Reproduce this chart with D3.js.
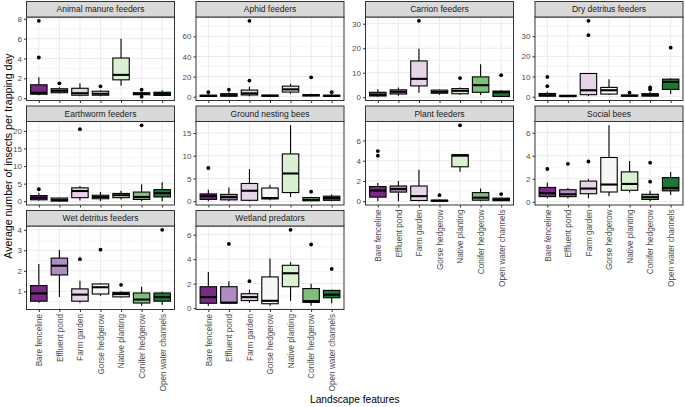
<!DOCTYPE html>
<html><head><meta charset="utf-8">
<script src="https://cdn.jsdelivr.net/npm/d3@7"></script>
<style>body{margin:0;background:#fff}svg{display:block}</style>
</head><body><svg id="c" width="685" height="407"></svg>
<script>
// ---------------- DATA ----------------
const categories = ["Bare fenceline","Effluent pond","Farm garden","Gorse hedgerow","Native planting","Conifer hedgerow","Open water channels"];
const groups = ["Animal manure feeders","Aphid feeders","Carrion feeders","Dry detritus feeders",
  "Earthworm feeders","Ground nesting bees","Plant feeders","Social bees",
  "Wet detritus feeders","Wetland predators"];
const palette = ["#762a83","#af8dc3","#e7d4e8","#f7f7f7","#d9f0d3","#7fbf7b","#1b7837"];

// box statistics per category: [lower whisker, Q1, median, Q3, upper whisker]
const animalManure = [[0.3,0.4,0.55,1.35,2.1],[0.5,0.55,0.75,0.95,1.1],[0.2,0.3,0.5,1.0,1.5],[0.2,0.3,0.45,0.7,0.8],[1.25,1.85,2.35,4.05,6.0],[0.3,0.35,0.45,0.55,0.6],[0.2,0.28,0.45,0.6,0.8]];
const animalManureOut = [[4.1,7.8],[1.5],[],[1.2],[],[0.85,0.15],[]];
const aphid = [[0,0.3,0.8,1.5,2.5],[0,0.5,1.5,3,4.5],[0.5,1.7,3.3,6.6,10],[0,0.5,1,1.5,2],[3,4.6,7.3,10.5,13],[0.2,0.8,1.5,2,3],[0,0.3,0.8,1.5,2.5]];
const aphidOut = [[4.5],[7],[16,75.5],[],[],[19.3],[4.5]];
const carrion = [[0.2,0.5,0.9,2.0,3.2],[0.6,1.3,2.2,3.0,4.0],[1.8,4.6,7.5,14.8,19.8],[1.0,1.6,2.2,2.9,3.1],[1.0,1.4,2.6,3.5,4],[0.9,2.0,4.9,8.3,13.5],[0.2,0.3,2.0,2.5,2.8]];
const carrionOut = [[],[],[31.2],[],[7.8],[],[9]];
const dryDetritus = [[0,0.3,0.7,1.6,2.5],[0,0.1,0.3,0.7,1.0],[0.3,1.0,3.2,11.5,11.8],[0.8,1.3,3.2,4.6,8.7],[0,0.3,0.5,0.8,1.2],[0.2,0.3,0.8,1.5,2.5],[1.3,3.6,7.3,8.7,9.0]];
const dryDetritusOut = [[5.2,9.8],[],[30.5,37.6],[],[2.0],[3.6,4.6],[24.3]];
const earthworm = [[0.1,0.4,1.0,1.6,2.3],[0,0.05,0.3,0.9,1.0],[0.2,1.0,2.9,3.8,4.3],[0,0.7,1.2,1.7,2.6],[0.5,1.0,1.7,2.2,3.0],[0,0.5,1.2,2.6,4.8],[0,1.2,2.3,3.3,5.4]];
const earthwormOut = [[3.4],[],[20.5],[],[],[21.6],[]];
const groundBees = [[0,0.4,1.1,1.6,2.5],[0,0.3,0.9,1.5,3.0],[0,0.2,2.3,3.9,7.1],[0.2,0.5,0.7,2.9,3.6],[0.9,1.9,6.1,10.4,16.7],[0,0.1,0.3,0.8,1.0],[0,0.2,0.7,1.1,1.5]];
const groundBeesOut = [[7.3],[],[],[],[],[2.1],[]];
const plantFeeders = [[0,0.4,1.05,1.45,1.8],[0,0.9,1.2,1.5,2.0],[0,0.07,0.5,1.5,3.1],[0,0,0.05,0.1,0.15],[2.9,3.4,4.5,4.6,4.65],[0,0.1,0.35,0.85,1.25],[0,0.05,0.15,0.3,0.35]];
const plantFeedersOut = [[4.5,4.95],[],[],[0.6],[7.5],[],[0.7]];
const socialBees = [[0.3,0.45,0.75,1.25,1.65],[0.3,0.45,0.65,1.05,1.2],[0.3,0.7,1.15,1.8,2.0],[0.5,0.85,1.5,3.85,6.65],[0.8,1.0,1.55,2.6,3.55],[0.05,0.2,0.4,0.65,0.95],[0.6,0.95,1.2,2.1,2.6]];
const socialBeesOut = [[2.85],[3.3],[3.5],[],[],[1.75,3.4],[]];
const wetDetritus = [[0.45,0.52,0.9,1.28,2.33],[0.72,1.8,2.25,2.62,3.02],[0.45,0.52,0.84,1.12,1.52],[0.78,0.87,1.2,1.36,1.4],[0.7,0.73,0.87,0.95,1.0],[0.3,0.43,0.6,0.92,1.22],[0.35,0.52,0.72,0.92,0.98]];
const wetDetritusOut = [[],[],[2.57],[3.03],[1.32],[],[4.0]];
const wetlandPred = [[0.2,0.4,0.9,1.75,2.95],[0.4,0.42,0.45,1.75,2.2],[0.45,0.62,0.9,1.18,1.5],[0.2,0.36,0.6,2.55,4.05],[0.6,1.75,2.85,3.5,3.75],[0.2,0.47,0.58,1.6,2.0],[0.4,0.85,1.1,1.45,1.5]];
const wetlandPredOut = [[],[5.25],[2.2],[],[6.4],[5.2],[3.2]];

// y-axis tick labels per panel
const ticksAnimal = [0,2,4,6,8];
const ticksAphid = [0,20,40,60];
const ticksCarrion = [0,10,20,30];
const ticksDry = [0,10,20,30];
const ticksEarth = [0,5,10,15,20];
const ticksGround = [0,5,10,15];
const ticksPlant = [0,2,4,6];
const ticksSocial = [0,2,4,6];
const ticksWet = [1,2,3,4];
const ticksWetland = [0,2,4,6];

const statsList = [animalManure,aphid,carrion,dryDetritus,earthworm,groundBees,plantFeeders,socialBees,wetDetritus,wetlandPred];
const outList = [animalManureOut,aphidOut,carrionOut,dryDetritusOut,earthwormOut,groundBeesOut,plantFeedersOut,socialBeesOut,wetDetritusOut,wetlandPredOut];
const tickList = [ticksAnimal,ticksAphid,ticksCarrion,ticksDry,ticksEarth,ticksGround,ticksPlant,ticksSocial,ticksWet,ticksWetland];

// ---------------- LAYOUT ----------------
const FONT = "'Liberation Sans', Arial, Helvetica, sans-serif";
const colX = [26.5, 196, 365.5, 535];
const panelW = 148;
const stripH = 15.5;
const plotTop = [17, 121.5, 226];
const plotH = 83.5;
const tickLen = 2.5;

const svg = d3.select("#c");

groups.forEach((title, i) => {
  const row = Math.floor(i / 4), col = i % 4;
  const x0 = colX[col], y0 = plotTop[row];
  const stats = statsList[i], outs = outList[i], ticks = tickList[i];
  const allVals = stats.flat().concat(outs.flat());
  const lo = d3.min(allVals), hi = d3.max(allVals), r = hi - lo;
  const y = d3.scaleLinear().domain([lo - 0.05 * r, hi + 0.05 * r]).range([y0 + plotH, y0]);
  const x = d3.scaleLinear().domain([0.4, 7.6]).range([x0, x0 + panelW]);
  const g = svg.append("g");

  g.append("rect").attr("x", x0).attr("y", y0).attr("width", panelW).attr("height", plotH).attr("fill", "#fff");
  const step = ticks[1] - ticks[0];
  const minor = [];
  for (let v = ticks[0] - step / 2; v <= y.domain()[1]; v += step) {
    if (v >= y.domain()[0] && !ticks.some(t => Math.abs(t - v) < 1e-9)) minor.push(v);
  }
  g.selectAll(".mn").data(minor).join("line")
    .attr("x1", x0).attr("x2", x0 + panelW).attr("y1", d => y(d)).attr("y2", d => y(d))
    .attr("stroke", "#ebebeb").attr("stroke-width", 0.5);
  g.selectAll(".mj").data(ticks).join("line")
    .attr("x1", x0).attr("x2", x0 + panelW).attr("y1", d => y(d)).attr("y2", d => y(d))
    .attr("stroke", "#ebebeb").attr("stroke-width", 1);
  g.selectAll(".mx").data(categories).join("line")
    .attr("x1", (d, k) => x(k + 1)).attr("x2", (d, k) => x(k + 1)).attr("y1", y0).attr("y2", y0 + plotH)
    .attr("stroke", "#ebebeb").attr("stroke-width", 1);

  const bw = 0.8;
  stats.forEach((s, k) => {
    const cx = x(k + 1);
    const bx = g.append("g");
    bx.append("line").attr("x1", cx).attr("x2", cx).attr("y1", y(s[3])).attr("y2", y(s[4]))
      .attr("stroke", "#000").attr("stroke-width", 1.1);
    bx.append("line").attr("x1", cx).attr("x2", cx).attr("y1", y(s[1])).attr("y2", y(s[0]))
      .attr("stroke", "#000").attr("stroke-width", 1.1);
    bx.append("rect").attr("x", x(k + 1 - bw / 2)).attr("width", x(k + 1 + bw / 2) - x(k + 1 - bw / 2))
      .attr("y", y(s[3])).attr("height", Math.max(0.01, y(s[1]) - y(s[3])))
      .attr("fill", palette[k]).attr("stroke", "#000").attr("stroke-width", 1.1);
    bx.append("line").attr("x1", x(k + 1 - bw / 2)).attr("x2", x(k + 1 + bw / 2))
      .attr("y1", y(s[2])).attr("y2", y(s[2])).attr("stroke", "#000").attr("stroke-width", 2.1);
    bx.selectAll("circle").data(outs[k]).join("circle")
      .attr("cx", cx).attr("cy", d => y(d)).attr("r", 1.9).attr("fill", "#000");
  });

  g.append("rect").attr("x", x0).attr("y", y0).attr("width", panelW).attr("height", plotH)
    .attr("fill", "none").attr("stroke", "#333").attr("stroke-width", 1);

  g.append("rect").attr("x", x0).attr("y", y0 - stripH).attr("width", panelW).attr("height", stripH)
    .attr("fill", "#d9d9d9").attr("stroke", "#333").attr("stroke-width", 1);
  g.append("text").attr("x", x0 + panelW / 2).attr("y", y0 - stripH / 2).attr("dy", "0.35em")
    .attr("text-anchor", "middle").attr("font-family", FONT).attr("font-size", 8.5).attr("fill", "#1a1a1a")
    .text(title);

  const yAx = d3.axisLeft(y).tickValues(ticks).tickSize(tickLen).tickPadding(2).tickFormat(d3.format("~g"));
  const ya = g.append("g").attr("transform", `translate(${x0},0)`).call(yAx);
  ya.select(".domain").remove();
  ya.selectAll(".tick line").attr("stroke", "#333").attr("stroke-width", 1);
  ya.selectAll(".tick text").attr("font-family", FONT).attr("font-size", 8).attr("fill", "#4d4d4d");

  const hasX = (i >= 6);
  const xb = d3.axisBottom(x).tickValues([1,2,3,4,5,6,7]).tickSize(tickLen).tickPadding(2)
    .tickFormat(d => hasX ? categories[d - 1] : "");
  const xa = g.append("g").attr("transform", `translate(0,${y0 + plotH})`).call(xb);
  xa.select(".domain").remove();
  xa.selectAll(".tick line").attr("stroke", "#333").attr("stroke-width", 1);
  xa.selectAll(".tick text").attr("font-family", FONT).attr("font-size", 8.2).attr("fill", "#4d4d4d")
    .attr("transform", "rotate(-90)").attr("text-anchor", "end")
    .attr("x", -(tickLen + 2)).attr("y", 0).attr("dy", "0.35em");
});

svg.append("text").attr("x", 354.75).attr("y", 403).attr("text-anchor", "middle")
  .attr("font-family", FONT).attr("font-size", 10.2).attr("fill", "#000").text("Landscape features");
svg.append("text").attr("transform", "translate(12,156) rotate(-90)").attr("text-anchor", "middle")
  .attr("font-family", FONT).attr("font-size", 10.6).attr("fill", "#000")
  .text("Average number of insects per trapping day");
</script></body></html>
